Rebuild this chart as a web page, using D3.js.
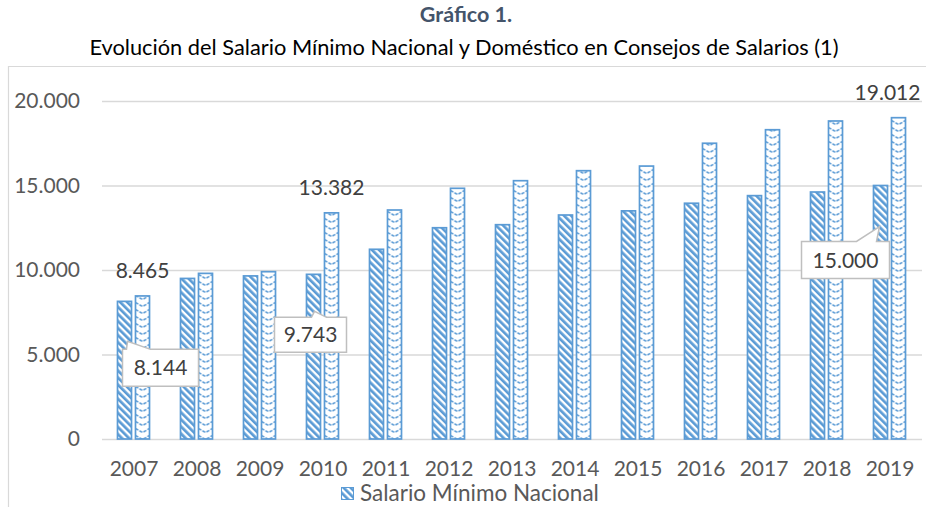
<!DOCTYPE html>
<html><head><meta charset="utf-8">
<script src="https://cdn.jsdelivr.net/npm/d3@7"></script>
<style>
html,body{margin:0;padding:0;background:#fff;}
svg{display:block;font-family:Lato,"Open Sans",sans-serif;}
</style></head>
<body><svg id="chart" width="926" height="507"></svg>
<script>
const years = ["2007","2008","2009","2010","2011","2012","2013","2014","2015","2016","2017","2018","2019"];
const nacional = [8144,9500,9650,9743,11225,12500,12680,13254,13500,13950,14400,14615,15000];
const domestico = [8465,9800,9900,13382,13550,14834,15284,15876,16150,17500,18300,18817,19012];
const yTicks = [0,5000,10000,15000,20000];
const titleText = "Gráfico 1.";
const subtitleText = "Evolución del Salario Mínimo Nacional y Doméstico en Consejos de Salarios (1)";
const legendLabel = "Salario Mínimo Nacional";

const fmt = v => d3.format(",")(v).replace(/,/g, ".");
const blue = "#5B9BD5";
const svg = d3.select("#chart");

const x = d3.scaleBand().domain(years).range([102.5,921.5]).paddingInner(0).paddingOuter(0);
const y = d3.scaleLinear().domain([0,20000]).range([439,101]);
const bw = 14;
const cx = d => x(d) + x.bandwidth()/2;

const defs = svg.append("defs");
const p1 = defs.append("pattern").attr("id","diag").attr("patternUnits","userSpaceOnUse")
  .attr("width",5).attr("height",5).attr("patternTransform","rotate(-45)");
p1.append("rect").attr("width",5).attr("height",5).attr("fill","#fff");
p1.append("rect").attr("width",2.7).attr("height",5).attr("fill",blue);
years.forEach((d,i)=>{
  const p = defs.append("pattern").attr("id","zig"+i).attr("patternUnits","userSpaceOnUse")
    .attr("x",cx(d)+1.5).attr("y",0).attr("width",bw).attr("height",7);
  p.append("rect").attr("width",bw).attr("height",7).attr("fill","#fff");
  p.append("path").attr("d",`M0,1.5 L${bw/2},5.5 L${bw},1.5`).attr("fill","none")
    .attr("stroke",blue).attr("stroke-width",1.6).attr("stroke-dasharray","3.2,1.4");
});

// chart frame
svg.append("path").attr("d","M8.5,507 L8.5,66.5 L926,66.5").attr("fill","none").attr("stroke","#d9d9d9").attr("stroke-width",1.2);

// titles
svg.append("text").attr("x",466).attr("y",22).attr("text-anchor","middle")
  .attr("font-size",21.5).attr("font-weight","bold").attr("fill","#44546A").text(titleText);
svg.append("text").attr("x",464).attr("y",55).attr("text-anchor","middle")
  .attr("font-size",21.8).attr("fill","#000").text(subtitleText);

// grid
svg.append("g").selectAll("line").data(yTicks).join("line")
  .attr("x1",102).attr("x2",922).attr("y1",d=>y(d)+0.5).attr("y2",d=>y(d)+0.5)
  .attr("stroke","#d9d9d9").attr("stroke-width",1.3);

// y axis labels
const yAxis = svg.append("g").attr("transform","translate(80,0)")
  .call(d3.axisLeft(y).tickValues(yTicks).tickFormat(fmt).tickSize(0).tickPadding(0));
yAxis.select(".domain").remove();
yAxis.selectAll("text").attr("font-size",21).attr("fill","#595959").attr("font-family","Lato,sans-serif");

// x axis labels
const xAxis = svg.append("g").attr("transform","translate(0,439)")
  .call(d3.axisBottom(x).tickSize(0).tickPadding(22));
xAxis.select(".domain").remove();
xAxis.selectAll("text").attr("font-size",21).attr("fill","#595959").attr("font-family","Lato,sans-serif");

svg.append("g").selectAll("rect").data(years).join("rect")
  .attr("x",(d)=>cx(d)-16.5).attr("width",bw)
  .attr("y",(d,i)=>y(nacional[i])).attr("height",(d,i)=>y(0)-y(nacional[i]))
  .attr("fill","url(#diag)").attr("stroke",blue).attr("stroke-width",1.7);
svg.append("g").selectAll("rect").data(years).join("rect")
  .attr("x",(d)=>cx(d)+1.5).attr("width",bw)
  .attr("y",(d,i)=>y(domestico[i])).attr("height",(d,i)=>y(0)-y(domestico[i]))
  .attr("fill",(d,i)=>`url(#zig${i})`).attr("stroke",blue).attr("stroke-width",1.7);

// labels above domestic bars
const domLabels = [{i:0,dx:0},{i:3,dx:0},{i:12,dx:-11}];
domLabels.forEach(o=>{
  svg.append("text").attr("x",cx(years[o.i])+8.5+o.dx).attr("y",y(domestico[o.i])-18)
    .attr("text-anchor","middle").attr("font-size",21).attr("fill","#404040").text(fmt(domestico[o.i]));
});

// callouts for nacional
const callouts = [
  {i:0, bx:-2, by:48, w:76, h:37, tx:3, ty:40, b1:4, b2:28},
  {i:3, bx:-39, by:43, w:72, h:35, tx:1, ty:37, b1:37, b2:52},
  {i:12, bx:-79, by:56, w:88, h:37, tx:-1, ty:41, b1:55, b2:75}
];
callouts.forEach(c=>{
  const px = cx(years[c.i]) - 9.5, py = y(nacional[c.i]);
  const L = px + c.bx, T = py + c.by, R = L + c.w, B = T + c.h;
  const tipX = px + c.tx, tipY = py + c.ty;
  const d = `M${L},${T} L${L+c.b1},${T} L${tipX},${tipY} L${L+c.b2},${T} L${R},${T} L${R},${B} L${L},${B} Z`;
  svg.append("path").attr("d",d).attr("fill","#fff").attr("stroke","#bfbfbf").attr("stroke-width",1.5);
  svg.append("text").attr("x",(L+R)/2).attr("y",(T+B)/2+7.5).attr("text-anchor","middle")
    .attr("font-size",21).attr("fill","#404040").text(fmt(nacional[c.i]));
});

// legend
const lg = svg.append("g").attr("transform","translate(341,487)");
lg.append("rect").attr("x",0.5).attr("y",0.5).attr("width",12).attr("height",12)
  .attr("fill","url(#diag)").attr("stroke",blue).attr("stroke-width",1);
lg.append("text").attr("x",19).attr("y",14).attr("font-size",22.5).attr("fill","#595959").text(legendLabel);
</script></body></html>
